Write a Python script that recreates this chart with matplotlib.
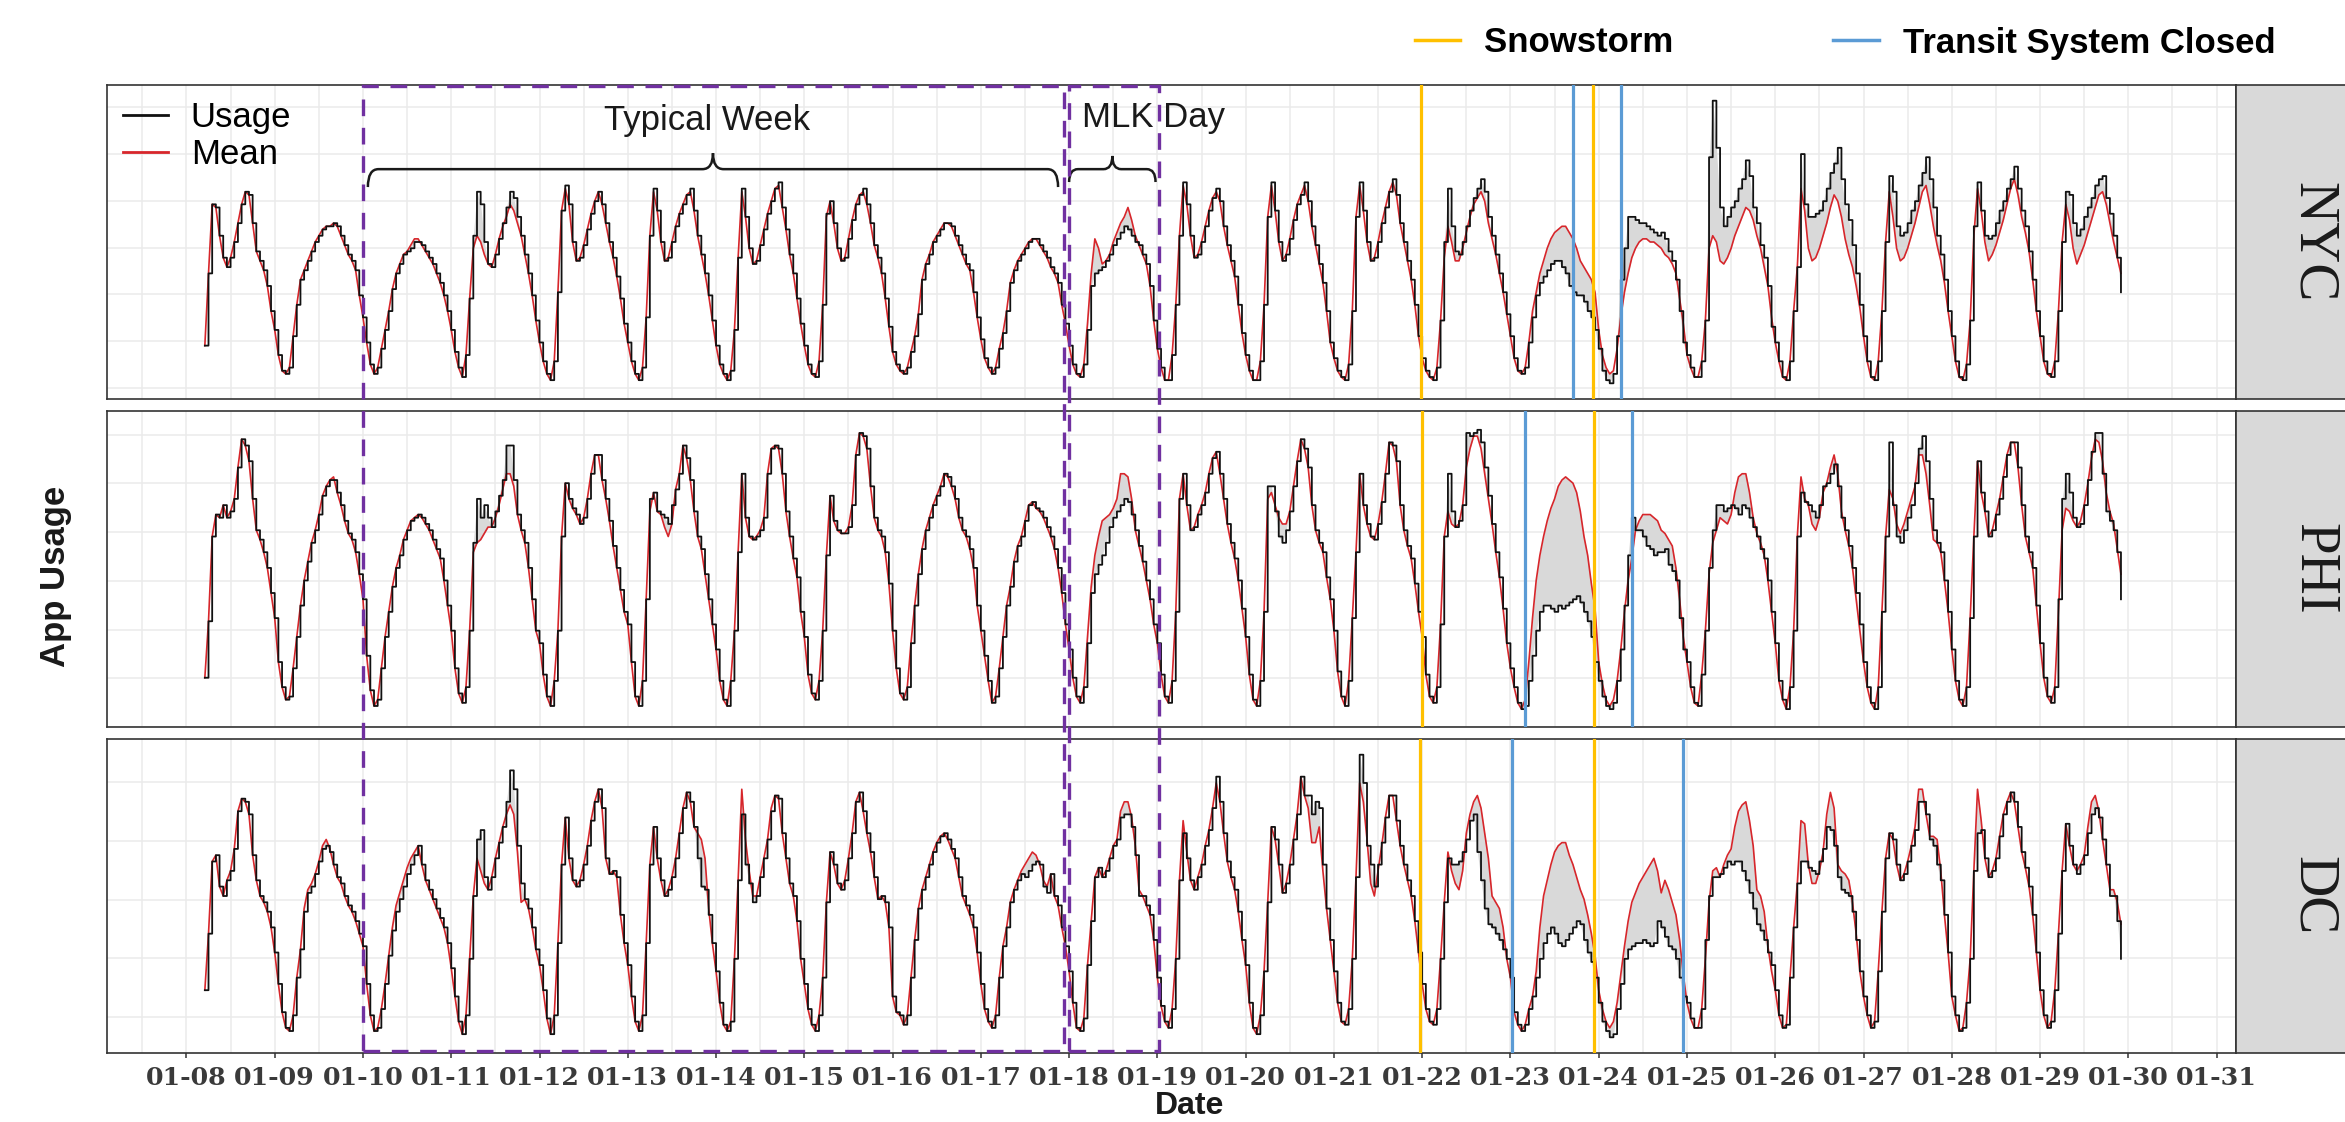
import numpy as np
import pandas as pd
import matplotlib
matplotlib.use("Agg")
import matplotlib.pyplot as plt
import matplotlib.dates as mdates
from matplotlib.lines import Line2D
from matplotlib.patches import PathPatch, Rectangle
from matplotlib.path import Path
from matplotlib.transforms import blended_transform_factory

_ = None  # hour with no value

# hourly app usage, one row per day 01-08 .. 01-29 (hours 0-23), in % of panel height
hours = pd.date_range("2016-01-08 00:00", periods=22 * 24, freq="h")
day_ticks = pd.date_range("2016-01-08", "2016-01-31", freq="D")
day_labels = list(day_ticks.strftime("%m-%d"))

nyc_usage = [
    [_, _, _, _, _, 17, 40, 62, 61, 52, 45, 42, 45, 50, 56, 62, 66, 65, 56, 47, 44, 41, 36, 28],
    [22, 14, 9, 8, 10, 20, 30, 38, 41, 44, 47, 50, 52, 54, 55, 55, 56, 55, 52, 49, 46, 44, 41, 33],
    [26, 18, 11, 8, 10, 16, 22, 28, 35, 40, 43, 46, 47, 48, 50, 50, 49, 47, 45, 43, 40, 37, 33, 28],
    [22, 15, 10, 7, 14, 32, 52, 66, 62, 50, 43, 42, 46, 51, 56, 61, 66, 64, 58, 52, 46, 40, 33, 25],
    [18, 12, 8, 6, 12, 34, 60, 68, 62, 50, 44, 45, 49, 54, 59, 63, 66, 62, 56, 50, 45, 39, 32, 24],
    [18, 12, 8, 6, 10, 26, 52, 67, 60, 50, 44, 45, 50, 55, 59, 62, 65, 67, 60, 52, 46, 40, 33, 25],
    [17, 11, 8, 6, 9, 22, 45, 67, 58, 48, 43, 44, 49, 54, 59, 63, 67, 69, 61, 54, 46, 40, 32, 24],
    [17, 11, 8, 7, 12, 30, 59, 63, 56, 48, 44, 45, 51, 57, 62, 65, 67, 62, 56, 49, 45, 40, 32, 23],
    [15, 11, 9, 8, 10, 15, 20, 27, 38, 43, 46, 50, 52, 54, 56, 56, 55, 52, 49, 46, 43, 41, 34, 26],
    [19, 13, 10, 8, 10, 16, 21, 28, 37, 41, 44, 46, 48, 50, 51, 51, 49, 47, 45, 42, 40, 37, 30, 24],
    [17, 11, 8, 7, 11, 22, 36, 40, 41, 42, 44, 46, 49, 51, 53, 55, 54, 52, 50, 49, 46, 43, 36, 25],
    [16, 10, 6, 6, 14, 30, 52, 69, 62, 52, 45, 46, 50, 55, 60, 64, 67, 63, 55, 49, 44, 39, 30, 21],
    [14, 9, 6, 6, 12, 30, 58, 69, 60, 50, 44, 46, 51, 57, 62, 65, 69, 63, 55, 49, 43, 37, 28, 18],
    [13, 9, 7, 6, 11, 28, 58, 69, 60, 50, 44, 45, 50, 56, 61, 66, 70, 65, 56, 50, 44, 38, 30, 20],
    [13, 9, 7, 6, 10, 25, 50, 67, 55, 47, 46, 50, 55, 60, 64, 67, 70, 66, 58, 52, 46, 40, 34, 27],
    [20, 13, 9, 8, 10, 18, 26, 33, 37, 39, 41, 43, 44, 44, 42, 40, 36, 34, 33, 33, 31, 28, 26, 22],
    [16, 9, 6, 5, 8, 20, 38, 48, 58, 58, 57, 56, 56, 55, 54, 53, 52, 53, 51, 47, 44, 38, 28, 18],
    [14, 10, 7, 7, 12, 25, 77, 95, 80, 61, 55, 58, 61, 63, 67, 70, 76, 71, 61, 56, 49, 45, 36, 23],
    [18, 12, 7, 6, 12, 28, 42, 78, 62, 58, 58, 59, 60, 63, 67, 72, 75, 80, 70, 62, 57, 49, 40, 30],
    [20, 12, 7, 6, 12, 28, 50, 71, 66, 55, 52, 53, 56, 60, 63, 68, 72, 77, 70, 61, 52, 46, 38, 28],
    [20, 12, 7, 6, 11, 25, 55, 69, 60, 52, 51, 52, 56, 60, 63, 67, 70, 74, 67, 60, 55, 47, 38, 28],
    [20, 12, 8, 7, 12, 28, 50, 66, 65, 56, 52, 54, 58, 61, 64, 68, 70, 71, 64, 59, 52, 45, 34, _],
]
nyc_mean = [
    [_, _, _, _, _, 17, 40, 62, 61, 52, 45, 42, 45, 50, 56, 62, 66, 65, 56, 47, 44, 41, 36, 28],
    [22, 14, 9, 8, 10, 20, 30, 38, 41, 44, 47, 50, 52, 54, 55, 55, 56, 55, 52, 49, 46, 44, 41, 33],
    [26, 18, 11, 8, 10, 16, 22, 28, 35, 40, 43, 46, 47, 49, 51, 51, 49, 47, 45, 43, 40, 37, 33, 28],
    [22, 15, 10, 7, 14, 32, 48, 52, 50, 46, 43, 42, 46, 51, 55, 58, 62, 60, 56, 52, 46, 40, 33, 25],
    [18, 12, 8, 6, 12, 34, 60, 67, 62, 50, 44, 45, 49, 54, 59, 63, 66, 62, 56, 50, 45, 39, 32, 24],
    [18, 12, 8, 6, 10, 26, 52, 66, 60, 50, 44, 45, 50, 55, 59, 62, 65, 66, 60, 52, 46, 40, 33, 25],
    [17, 11, 8, 6, 9, 22, 45, 66, 58, 48, 43, 44, 49, 54, 59, 63, 67, 68, 61, 54, 46, 40, 32, 24],
    [17, 11, 8, 7, 12, 30, 58, 63, 56, 48, 44, 45, 51, 57, 62, 65, 66, 62, 56, 49, 45, 40, 32, 23],
    [15, 11, 9, 8, 10, 15, 20, 27, 38, 43, 46, 50, 52, 54, 56, 56, 55, 52, 49, 46, 43, 41, 34, 26],
    [19, 13, 10, 8, 10, 16, 21, 28, 37, 41, 44, 46, 48, 50, 51, 51, 49, 47, 45, 42, 40, 37, 30, 24],
    [17, 11, 8, 7, 11, 24, 40, 51, 48, 43, 44, 46, 50, 53, 56, 58, 61, 57, 52, 49, 46, 43, 36, 25],
    [16, 10, 6, 6, 14, 30, 52, 68, 62, 52, 45, 46, 50, 55, 60, 64, 66, 63, 55, 49, 44, 39, 30, 21],
    [14, 9, 6, 6, 12, 30, 58, 68, 60, 50, 44, 46, 51, 57, 62, 65, 68, 63, 55, 49, 43, 37, 28, 18],
    [13, 9, 7, 6, 11, 28, 58, 68, 60, 50, 44, 45, 50, 56, 61, 66, 69, 65, 56, 50, 44, 38, 30, 20],
    [13, 9, 7, 6, 10, 25, 45, 55, 50, 44, 44, 48, 53, 58, 62, 64, 66, 63, 56, 51, 46, 40, 34, 27],
    [20, 13, 9, 8, 10, 18, 28, 34, 40, 44, 48, 51, 53, 54, 55, 55, 53, 51, 48, 44, 42, 40, 38, 34],
    [22, 14, 10, 8, 9, 16, 26, 34, 40, 45, 48, 50, 51, 51, 50, 50, 49, 48, 46, 45, 43, 40, 32, 24],
    [14, 10, 7, 7, 12, 25, 48, 52, 50, 44, 43, 45, 48, 52, 55, 58, 61, 60, 57, 52, 48, 42, 36, 26],
    [18, 12, 7, 6, 12, 28, 42, 67, 60, 48, 44, 45, 48, 52, 56, 61, 65, 63, 58, 51, 46, 42, 36, 29],
    [20, 12, 7, 6, 12, 28, 50, 66, 58, 48, 44, 45, 48, 52, 56, 61, 66, 68, 62, 55, 49, 44, 37, 28],
    [20, 12, 7, 6, 11, 25, 52, 67, 60, 50, 44, 46, 49, 53, 57, 62, 67, 70, 65, 58, 53, 47, 38, 28],
    [20, 12, 8, 7, 12, 28, 50, 62, 57, 48, 43, 46, 49, 53, 57, 61, 65, 66, 62, 56, 50, 45, 40, _],
]

phi_usage = [
    [_, _, _, _, _, 15, 33, 60, 67, 66, 70, 66, 68, 72, 82, 91, 89, 84, 72, 62, 59, 55, 50, 42],
    [34, 20, 12, 8, 9, 18, 28, 38, 46, 52, 58, 62, 67, 73, 76, 78, 78, 74, 70, 65, 61, 59, 55, 48],
    [40, 22, 11, 6, 8, 18, 28, 36, 44, 50, 54, 59, 62, 65, 66, 67, 66, 64, 62, 59, 56, 53, 46, 38],
    [30, 18, 10, 7, 12, 30, 58, 72, 66, 70, 66, 63, 68, 73, 78, 89, 89, 78, 67, 62, 58, 50, 40, 30],
    [26, 16, 9, 6, 14, 30, 60, 77, 72, 69, 67, 64, 66, 72, 80, 86, 86, 78, 72, 65, 57, 50, 43, 36],
    [32, 20, 9, 6, 14, 40, 72, 74, 68, 67, 66, 64, 70, 75, 80, 89, 85, 78, 68, 60, 56, 48, 40, 32],
    [24, 14, 8, 6, 14, 30, 55, 80, 66, 60, 59, 60, 62, 66, 80, 88, 89, 88, 80, 68, 60, 53, 47, 36],
    [28, 16, 10, 8, 14, 30, 54, 73, 65, 62, 61, 61, 63, 70, 86, 93, 92, 88, 76, 66, 62, 60, 55, 45],
    [30, 18, 10, 8, 12, 26, 38, 48, 56, 62, 66, 70, 73, 76, 80, 79, 76, 72, 66, 62, 60, 56, 50, 38],
    [30, 22, 14, 7, 9, 18, 28, 38, 44, 52, 57, 60, 65, 70, 71, 69, 68, 66, 63, 60, 56, 50, 42, 32],
    [24, 15, 9, 7, 12, 26, 42, 48, 51, 54, 58, 63, 66, 68, 70, 72, 71, 67, 62, 57, 52, 46, 40, 32],
    [26, 16, 9, 7, 14, 36, 72, 80, 70, 62, 63, 67, 70, 74, 80, 85, 87, 80, 72, 64, 58, 53, 46, 37],
    [28, 16, 8, 6, 14, 36, 76, 76, 68, 60, 58, 62, 68, 76, 84, 91, 88, 82, 70, 62, 58, 55, 47, 40],
    [30, 17, 9, 6, 14, 34, 55, 80, 70, 64, 60, 59, 64, 71, 80, 90, 89, 84, 70, 62, 57, 53, 45, 36],
    [28, 16, 9, 7, 12, 32, 60, 80, 68, 63, 65, 70, 93, 92, 93, 94, 90, 82, 73, 64, 55, 47, 37, 26],
    [18, 12, 7, 5, 6, 14, 22, 30, 36, 38, 38, 37, 36, 38, 37, 38, 39, 40, 41, 39, 36, 33, 28, 20],
    [14, 9, 6, 5, 7, 14, 24, 38, 54, 66, 62, 62, 60, 57, 56, 54, 55, 55, 56, 51, 49, 46, 34, 24],
    [20, 12, 7, 6, 16, 30, 50, 62, 70, 70, 68, 69, 70, 69, 67, 70, 69, 66, 63, 60, 56, 53, 46, 36],
    [26, 14, 8, 5, 12, 30, 60, 74, 71, 70, 68, 66, 70, 76, 77, 80, 83, 76, 66, 62, 57, 50, 42, 32],
    [20, 12, 7, 5, 12, 36, 60, 90, 70, 60, 58, 62, 66, 70, 77, 88, 92, 84, 72, 62, 58, 55, 46, 36],
    [24, 14, 8, 6, 12, 34, 60, 84, 74, 68, 60, 62, 67, 72, 79, 86, 90, 90, 82, 70, 60, 55, 50, 38],
    [26, 15, 9, 7, 12, 40, 72, 80, 74, 66, 63, 64, 70, 78, 87, 93, 93, 80, 68, 65, 62, 55, 40, _],
]
phi_mean = [
    [_, _, _, _, _, 15, 33, 60, 67, 66, 70, 66, 68, 72, 82, 91, 89, 84, 72, 62, 59, 55, 50, 42],
    [34, 20, 12, 8, 9, 18, 28, 38, 46, 52, 58, 62, 67, 73, 76, 78, 79, 74, 70, 65, 61, 59, 55, 48],
    [40, 22, 11, 6, 8, 18, 28, 36, 44, 50, 54, 59, 62, 65, 66, 67, 66, 64, 62, 59, 56, 53, 46, 38],
    [30, 18, 10, 7, 12, 30, 55, 58, 59, 61, 63, 63, 66, 70, 75, 80, 80, 76, 67, 62, 58, 50, 40, 30],
    [26, 16, 9, 6, 14, 30, 60, 77, 72, 69, 67, 64, 66, 72, 80, 86, 86, 78, 72, 65, 57, 50, 43, 36],
    [32, 20, 9, 6, 14, 40, 68, 74, 68, 67, 63, 60, 64, 75, 80, 89, 85, 78, 68, 60, 56, 48, 40, 32],
    [24, 14, 8, 6, 14, 30, 55, 80, 66, 60, 59, 60, 62, 66, 80, 88, 89, 88, 80, 68, 60, 53, 47, 36],
    [28, 16, 10, 8, 14, 30, 54, 73, 65, 62, 61, 61, 63, 70, 86, 93, 92, 88, 76, 66, 62, 60, 55, 45],
    [30, 18, 10, 8, 12, 26, 38, 48, 56, 62, 66, 70, 73, 76, 80, 79, 76, 72, 66, 62, 60, 56, 50, 38],
    [30, 22, 14, 7, 9, 18, 28, 38, 44, 52, 57, 60, 65, 70, 71, 69, 68, 66, 63, 60, 56, 50, 42, 32],
    [24, 15, 9, 7, 12, 28, 44, 54, 60, 65, 66, 67, 69, 72, 80, 80, 79, 72, 62, 57, 52, 46, 40, 32],
    [26, 16, 9, 7, 14, 36, 72, 80, 70, 62, 63, 67, 70, 74, 80, 85, 87, 80, 72, 64, 58, 53, 46, 37],
    [28, 16, 8, 6, 14, 36, 72, 74, 70, 66, 64, 64, 68, 76, 84, 91, 88, 82, 70, 62, 58, 55, 47, 40],
    [30, 17, 9, 6, 14, 34, 55, 80, 70, 64, 60, 59, 64, 71, 80, 90, 89, 84, 70, 62, 57, 53, 45, 36],
    [28, 16, 9, 7, 12, 32, 60, 68, 64, 63, 64, 70, 82, 88, 92, 92, 88, 80, 72, 64, 55, 47, 37, 26],
    [18, 12, 7, 5, 8, 20, 34, 46, 54, 60, 65, 69, 72, 76, 78, 79, 78, 77, 74, 68, 60, 54, 45, 37],
    [20, 13, 8, 6, 8, 14, 24, 36, 46, 53, 62, 65, 67, 67, 67, 66, 65, 62, 61, 59, 57, 50, 40, 28],
    [20, 12, 7, 6, 16, 30, 48, 58, 62, 66, 65, 64, 67, 74, 79, 80, 80, 74, 66, 61, 58, 54, 46, 36],
    [26, 14, 8, 5, 12, 30, 60, 79, 72, 70, 64, 62, 66, 74, 77, 82, 86, 80, 68, 62, 57, 50, 40, 30],
    [20, 12, 7, 5, 12, 36, 60, 75, 72, 64, 61, 64, 68, 72, 76, 86, 86, 80, 70, 59, 58, 55, 46, 36],
    [24, 14, 8, 6, 12, 34, 60, 84, 74, 68, 60, 62, 67, 72, 79, 86, 90, 90, 82, 70, 60, 55, 50, 38],
    [26, 15, 9, 7, 12, 36, 62, 69, 68, 65, 63, 65, 70, 77, 85, 91, 90, 84, 74, 68, 64, 56, 48, _],
]

dc_usage = [
    [_, _, _, _, _, 20, 38, 61, 63, 53, 50, 55, 58, 65, 77, 81, 80, 76, 63, 55, 50, 48, 45, 40],
    [32, 22, 13, 8, 7, 12, 24, 33, 45, 51, 53, 57, 61, 65, 66, 64, 60, 56, 54, 50, 47, 45, 42, 38],
    [34, 22, 12, 7, 8, 14, 22, 31, 39, 45, 49, 53, 57, 60, 63, 66, 60, 55, 52, 49, 46, 43, 40, 35],
    [27, 18, 10, 6, 12, 30, 50, 68, 71, 56, 52, 56, 62, 67, 72, 80, 90, 84, 66, 54, 49, 46, 40, 33],
    [28, 20, 11, 6, 12, 35, 60, 75, 62, 55, 53, 55, 60, 66, 74, 80, 84, 78, 62, 57, 58, 56, 44, 35],
    [28, 18, 10, 7, 12, 35, 60, 72, 62, 55, 50, 52, 56, 62, 70, 78, 83, 80, 72, 62, 53, 52, 44, 35],
    [26, 16, 9, 7, 10, 30, 55, 76, 60, 54, 48, 50, 56, 62, 68, 77, 82, 81, 70, 62, 54, 50, 42, 30],
    [22, 14, 9, 7, 12, 24, 48, 64, 60, 54, 52, 55, 62, 70, 80, 83, 77, 70, 64, 56, 49, 50, 48, 40],
    [18, 13, 12, 9, 12, 24, 36, 46, 52, 56, 60, 64, 67, 69, 70, 68, 65, 62, 56, 50, 47, 44, 40, 32],
    [22, 14, 10, 8, 12, 24, 34, 40, 48, 52, 55, 57, 56, 58, 60, 61, 60, 53, 51, 57, 50, 47, 40, 34],
    [26, 16, 8, 7, 11, 28, 42, 56, 59, 56, 58, 62, 66, 68, 75, 76, 76, 72, 63, 50, 50, 47, 44, 36],
    [24, 15, 10, 8, 14, 30, 55, 70, 62, 55, 52, 56, 60, 66, 71, 78, 88, 80, 70, 61, 56, 52, 45, 36],
    [28, 16, 8, 6, 12, 26, 48, 72, 68, 60, 51, 54, 60, 68, 76, 88, 82, 82, 76, 80, 78, 60, 46, 36],
    [26, 16, 10, 9, 14, 30, 56, 95, 86, 66, 60, 53, 60, 67, 75, 82, 82, 74, 66, 60, 55, 50, 42, 32],
    [22, 14, 10, 9, 14, 30, 48, 62, 60, 60, 61, 64, 68, 74, 76, 64, 55, 46, 41, 40, 38, 36, 33, 30],
    [24, 13, 9, 7, 9, 14, 18, 24, 30, 35, 38, 40, 38, 35, 34, 36, 38, 40, 42, 41, 36, 32, 29, 24],
    [16, 10, 7, 5, 6, 14, 22, 30, 33, 34, 35, 35, 36, 35, 34, 35, 42, 40, 37, 34, 33, 30, 24, 18],
    [16, 11, 8, 8, 14, 36, 50, 56, 56, 57, 59, 61, 60, 61, 61, 58, 55, 51, 46, 41, 39, 36, 32, 28],
    [20, 12, 8, 9, 24, 40, 54, 61, 61, 59, 58, 57, 61, 65, 72, 71, 66, 56, 52, 51, 50, 45, 36, 26],
    [18, 12, 8, 10, 26, 45, 62, 70, 68, 60, 55, 57, 61, 66, 71, 80, 80, 76, 68, 66, 60, 55, 44, 32],
    [18, 12, 7, 8, 16, 30, 58, 70, 71, 62, 56, 58, 62, 69, 76, 80, 83, 80, 72, 64, 59, 53, 44, 32],
    [20, 12, 8, 10, 20, 38, 58, 73, 66, 60, 57, 60, 63, 70, 76, 78, 75, 68, 60, 50, 50, 42, 30, _],
]
dc_mean = [
    [_, _, _, _, _, 20, 38, 61, 63, 53, 50, 55, 58, 65, 77, 81, 80, 76, 63, 55, 50, 48, 45, 40],
    [32, 22, 13, 8, 7, 12, 24, 33, 46, 52, 54, 57, 61, 66, 68, 65, 60, 56, 54, 50, 47, 45, 42, 38],
    [34, 22, 12, 7, 8, 14, 22, 31, 40, 47, 51, 55, 59, 62, 64, 66, 60, 55, 52, 49, 46, 43, 40, 35],
    [27, 18, 10, 6, 12, 30, 50, 62, 58, 54, 52, 56, 62, 67, 72, 76, 79, 76, 64, 48, 49, 46, 40, 33],
    [28, 20, 11, 6, 12, 35, 60, 75, 62, 55, 53, 55, 60, 66, 74, 80, 84, 78, 62, 57, 58, 56, 44, 35],
    [28, 18, 10, 7, 12, 35, 60, 72, 62, 55, 50, 52, 56, 62, 70, 78, 83, 80, 72, 70, 68, 62, 46, 35],
    [26, 16, 9, 7, 10, 30, 55, 84, 68, 58, 50, 50, 56, 62, 68, 78, 82, 81, 70, 62, 54, 50, 42, 30],
    [22, 14, 9, 7, 12, 24, 48, 64, 60, 54, 52, 55, 62, 70, 80, 83, 77, 70, 64, 56, 49, 50, 48, 40],
    [18, 13, 12, 9, 12, 24, 36, 46, 52, 56, 60, 64, 67, 69, 70, 68, 65, 62, 56, 50, 47, 44, 40, 32],
    [22, 14, 10, 8, 12, 24, 34, 40, 48, 52, 55, 58, 60, 62, 64, 63, 60, 55, 53, 57, 50, 47, 40, 34],
    [26, 16, 8, 7, 11, 28, 42, 56, 59, 56, 58, 62, 66, 68, 77, 80, 80, 75, 66, 52, 50, 47, 44, 36],
    [24, 15, 10, 8, 14, 30, 55, 74, 64, 55, 52, 56, 60, 66, 71, 78, 86, 80, 70, 61, 56, 52, 45, 36],
    [28, 16, 8, 6, 12, 26, 48, 72, 68, 60, 51, 54, 60, 68, 76, 88, 82, 78, 67, 67, 72, 58, 46, 36],
    [26, 16, 10, 9, 14, 30, 56, 86, 80, 68, 54, 50, 58, 66, 75, 82, 82, 74, 66, 60, 55, 50, 42, 32],
    [22, 14, 10, 9, 14, 30, 48, 64, 58, 54, 52, 58, 70, 76, 80, 82, 78, 70, 62, 50, 48, 46, 40, 30],
    [24, 13, 9, 7, 9, 14, 18, 26, 40, 50, 55, 60, 64, 66, 67, 67, 63, 60, 56, 52, 49, 44, 38, 31],
    [20, 14, 10, 8, 10, 16, 25, 34, 42, 48, 51, 54, 56, 58, 60, 62, 58, 51, 55, 52, 48, 44, 36, 25],
    [16, 11, 8, 8, 14, 30, 48, 58, 59, 56, 60, 63, 65, 72, 77, 79, 80, 74, 66, 52, 50, 45, 34, 26],
    [20, 12, 8, 9, 24, 40, 54, 74, 73, 60, 54, 54, 58, 64, 76, 83, 78, 60, 58, 57, 55, 48, 38, 26],
    [18, 12, 8, 10, 26, 45, 62, 70, 68, 60, 55, 57, 61, 66, 72, 84, 84, 76, 69, 69, 68, 58, 44, 32],
    [18, 12, 7, 8, 16, 30, 58, 84, 74, 62, 56, 58, 62, 69, 76, 80, 83, 80, 72, 64, 59, 53, 44, 32],
    [20, 12, 8, 10, 20, 38, 58, 73, 66, 60, 58, 60, 63, 72, 80, 82, 77, 68, 60, 52, 52, 48, 41, _],
]

# event lines per city
nyc_snow = ["2016-01-21 23:35", "2016-01-23 22:30"]
nyc_closed = ["2016-01-23 17:05", "2016-01-24 06:00"]
phi_snow = ["2016-01-22 00:00", "2016-01-23 22:40"]
phi_closed = ["2016-01-23 04:00", "2016-01-24 08:55"]
dc_snow = ["2016-01-21 23:30", "2016-01-23 22:50"]
dc_closed = ["2016-01-23 00:30", "2016-01-24 23:00"]

# highlighted periods
typical_box = ("2016-01-10 00:00", "2016-01-17 22:30")
mlk_box = ("2016-01-18 00:00", "2016-01-19 00:20")
typical_brace = ("2016-01-10 01:20", "2016-01-17 21:00")
mlk_brace = ("2016-01-18 00:00", "2016-01-18 23:30")

# horizontal grid lines (free y scale in each facet)
nyc_grid = [3.5, 18.4, 33.3, 48.2, 63.1, 78.0, 92.9]
phi_grid = [-0.7, 14.8, 30.3, 45.9, 61.4, 77.0, 92.5]
dc_grid = [11.5, 30.1, 48.8, 67.5, 86.2]

RED = "#d7262b"
GOLD = "#ffc000"
BLUE = "#5b9bd5"
PURPLE = "#7030a0"

plt.rcParams["font.family"] = ["Liberation Sans", "DejaVu Sans"]

W, H = 2345, 1122
fig = plt.figure(figsize=(W / 100, H / 100), dpi=100)


def box(l, t, r, b):
    return [l / W, 1 - b / H, (r - l) / W, (b - t) / H]


def flat(rows, name):
    for i, r in enumerate(rows):
        if len(r) != 24:
            raise ValueError(f"{name} row {i} has {len(r)} values")
    return np.array(sum(rows, []), dtype=float)


def num(s):
    return mdates.date2num(pd.Timestamp(s))


t = mdates.date2num(hours)
start = num("2016-01-08")
tick_pos = mdates.date2num(day_ticks)

panels = [
    ("NYC", 85, 399, nyc_usage, nyc_mean, nyc_grid, nyc_snow, nyc_closed),
    ("PHI", 411, 727, phi_usage, phi_mean, phi_grid, phi_snow, phi_closed),
    ("DC", 739, 1053, dc_usage, dc_mean, dc_grid, dc_snow, dc_closed),
]

axes = []
for i, (name, top, bot, usage, mean, grid_y, snow, closed) in enumerate(panels):
    ax = fig.add_axes(box(107, top, 2236, bot))
    u = flat(usage, name + " usage")
    m = flat(mean, name + " mean")
    ok = ~np.isnan(u)
    ax.fill_between(t[ok], u[ok], m[ok], color="#d9d9d9", lw=0, zorder=1)
    ax.plot(t[ok], m[ok], color=RED, lw=1.2, zorder=2)
    ax.step(t[ok], u[ok], where="post", color="#111111", lw=1.3, zorder=3)
    for e in snow:
        ax.axvline(num(e), color=GOLD, lw=2.3, zorder=5)
    for e in closed:
        ax.axvline(num(e), color=BLUE, lw=2.3, zorder=5)

    ax.set_xlim(start - 0.90, start + 23.22)
    ax.set_ylim(0, 100)
    ax.set_yticks(grid_y)
    ax.xaxis.set_minor_locator(mdates.HourLocator(byhour=[12]))
    ax.grid(True, which="both", color="#ebebeb", lw=1.1)
    ax.set_axisbelow(True)
    ax.tick_params(axis="y", length=0, labelleft=False)
    ax.tick_params(axis="x", which="minor", length=0)
    for s in ax.spines.values():
        s.set_color("#333333")
        s.set_linewidth(1.2)
    if i < 2:
        ax.set_xticks(tick_pos, [""] * len(tick_pos))
        ax.tick_params(axis="x", which="major", length=0)
    else:
        ax.set_xticks(tick_pos, day_labels, fontfamily="DejaVu Serif",
                      fontweight="bold", fontsize=18.2, color="#3a3a3a")
        ax.tick_params(axis="x", which="major", length=3.6, width=1.1,
                       color="#333333", pad=5.5)

    sax = fig.add_axes(box(2236, top, 2390, bot))
    sax.set_facecolor("#d9d9d9")
    sax.set_xticks([])
    sax.set_yticks([])
    for s in sax.spines.values():
        s.set_color("#333333")
        s.set_linewidth(1.2)
    sax.text(0.5, 0.5, name, rotation=-90, ha="center", va="center",
             family="Liberation Serif", fontsize=41, color="#1a1a1a",
             transform=sax.transAxes)
    axes.append(ax)

ax_nyc = axes[0]
btrans = blended_transform_factory(ax_nyc.transData, ax_nyc.transAxes)


def brace(ax, a, b, y_line, y_end, y_tip, r=0.12):
    x0, x1 = num(a), num(b)
    xc = (x0 + x1) / 2
    verts = [(x0, y_end), (x0, y_line), (x0 + r, y_line), (xc - r, y_line),
             (xc, y_line), (xc, y_tip), (xc, y_line), (xc + r, y_line),
             (x1 - r, y_line), (x1, y_line), (x1, y_end)]
    codes = [Path.MOVETO, Path.CURVE3, Path.CURVE3, Path.LINETO,
             Path.CURVE3, Path.CURVE3, Path.CURVE3, Path.CURVE3,
             Path.LINETO, Path.CURVE3, Path.CURVE3]
    ax.add_patch(PathPatch(Path(verts, codes), fill=False, lw=1.8,
                           edgecolor="#1a1a1a", transform=btrans, clip_on=False,
                           zorder=6))


brace(ax_nyc, *typical_brace, 0.732, 0.675, 0.783)
brace(ax_nyc, *mlk_brace, 0.732, 0.691, 0.774, r=0.1)
ax_nyc.text(num("2016-01-13 21:30"), 0.857, "Typical Week", transform=btrans,
            ha="center", va="baseline", fontsize=25, color="#1a1a1a", zorder=6)
ax_nyc.text(num("2016-01-18 03:30"), 0.866, "MLK Day", transform=btrans,
            ha="left", va="baseline", fontsize=25, color="#1a1a1a", zorder=6)

ax_nyc.legend([Line2D([], [], color="#111111", lw=2.0), Line2D([], [], color=RED, lw=2.0)],
              ["Usage", "Mean"], loc="upper left", bbox_to_anchor=(0.0075, 0.949),
              frameon=False, fontsize=25, handlelength=1.3, handletextpad=0.65,
              labelspacing=0.12, borderaxespad=0, borderpad=0)

# dashed boxes spanning all three facets
ftrans = blended_transform_factory(axes[2].transData, fig.transFigure)
for a, b in (typical_box, mlk_box):
    x0, x1 = num(a), num(b)
    fig.add_artist(Rectangle((x0, 1 - 1051 / H), x1 - x0, (1051 - 86) / H,
                             transform=ftrans, fill=False, edgecolor=PURPLE,
                             lw=2.4, linestyle=(0, (5, 3.5)), zorder=10))

fig.legend([Line2D([], [], color=GOLD, lw=2.5), Line2D([], [], color=BLUE, lw=2.5)],
           ["Snowstorm", "Transit System Closed"], loc="center left",
           bbox_to_anchor=(1415 / W, 1 - 43 / H), ncol=2, frameon=False,
           prop={"weight": "bold", "size": 25}, handlelength=1.3,
           handletextpad=0.7, columnspacing=4.6, borderpad=0, borderaxespad=0)

fig.text(56 / W, 1 - 576 / H, "App Usage", rotation=90, ha="center", va="center",
         fontsize=25, fontweight="bold", color="#1a1a1a")
fig.text(1190 / W, 1 - 1121 / H, "Date", ha="center", va="bottom",
         fontsize=23, fontweight="bold", color="#1a1a1a")

fig.savefig("out.png", dpi=100, facecolor="white")
